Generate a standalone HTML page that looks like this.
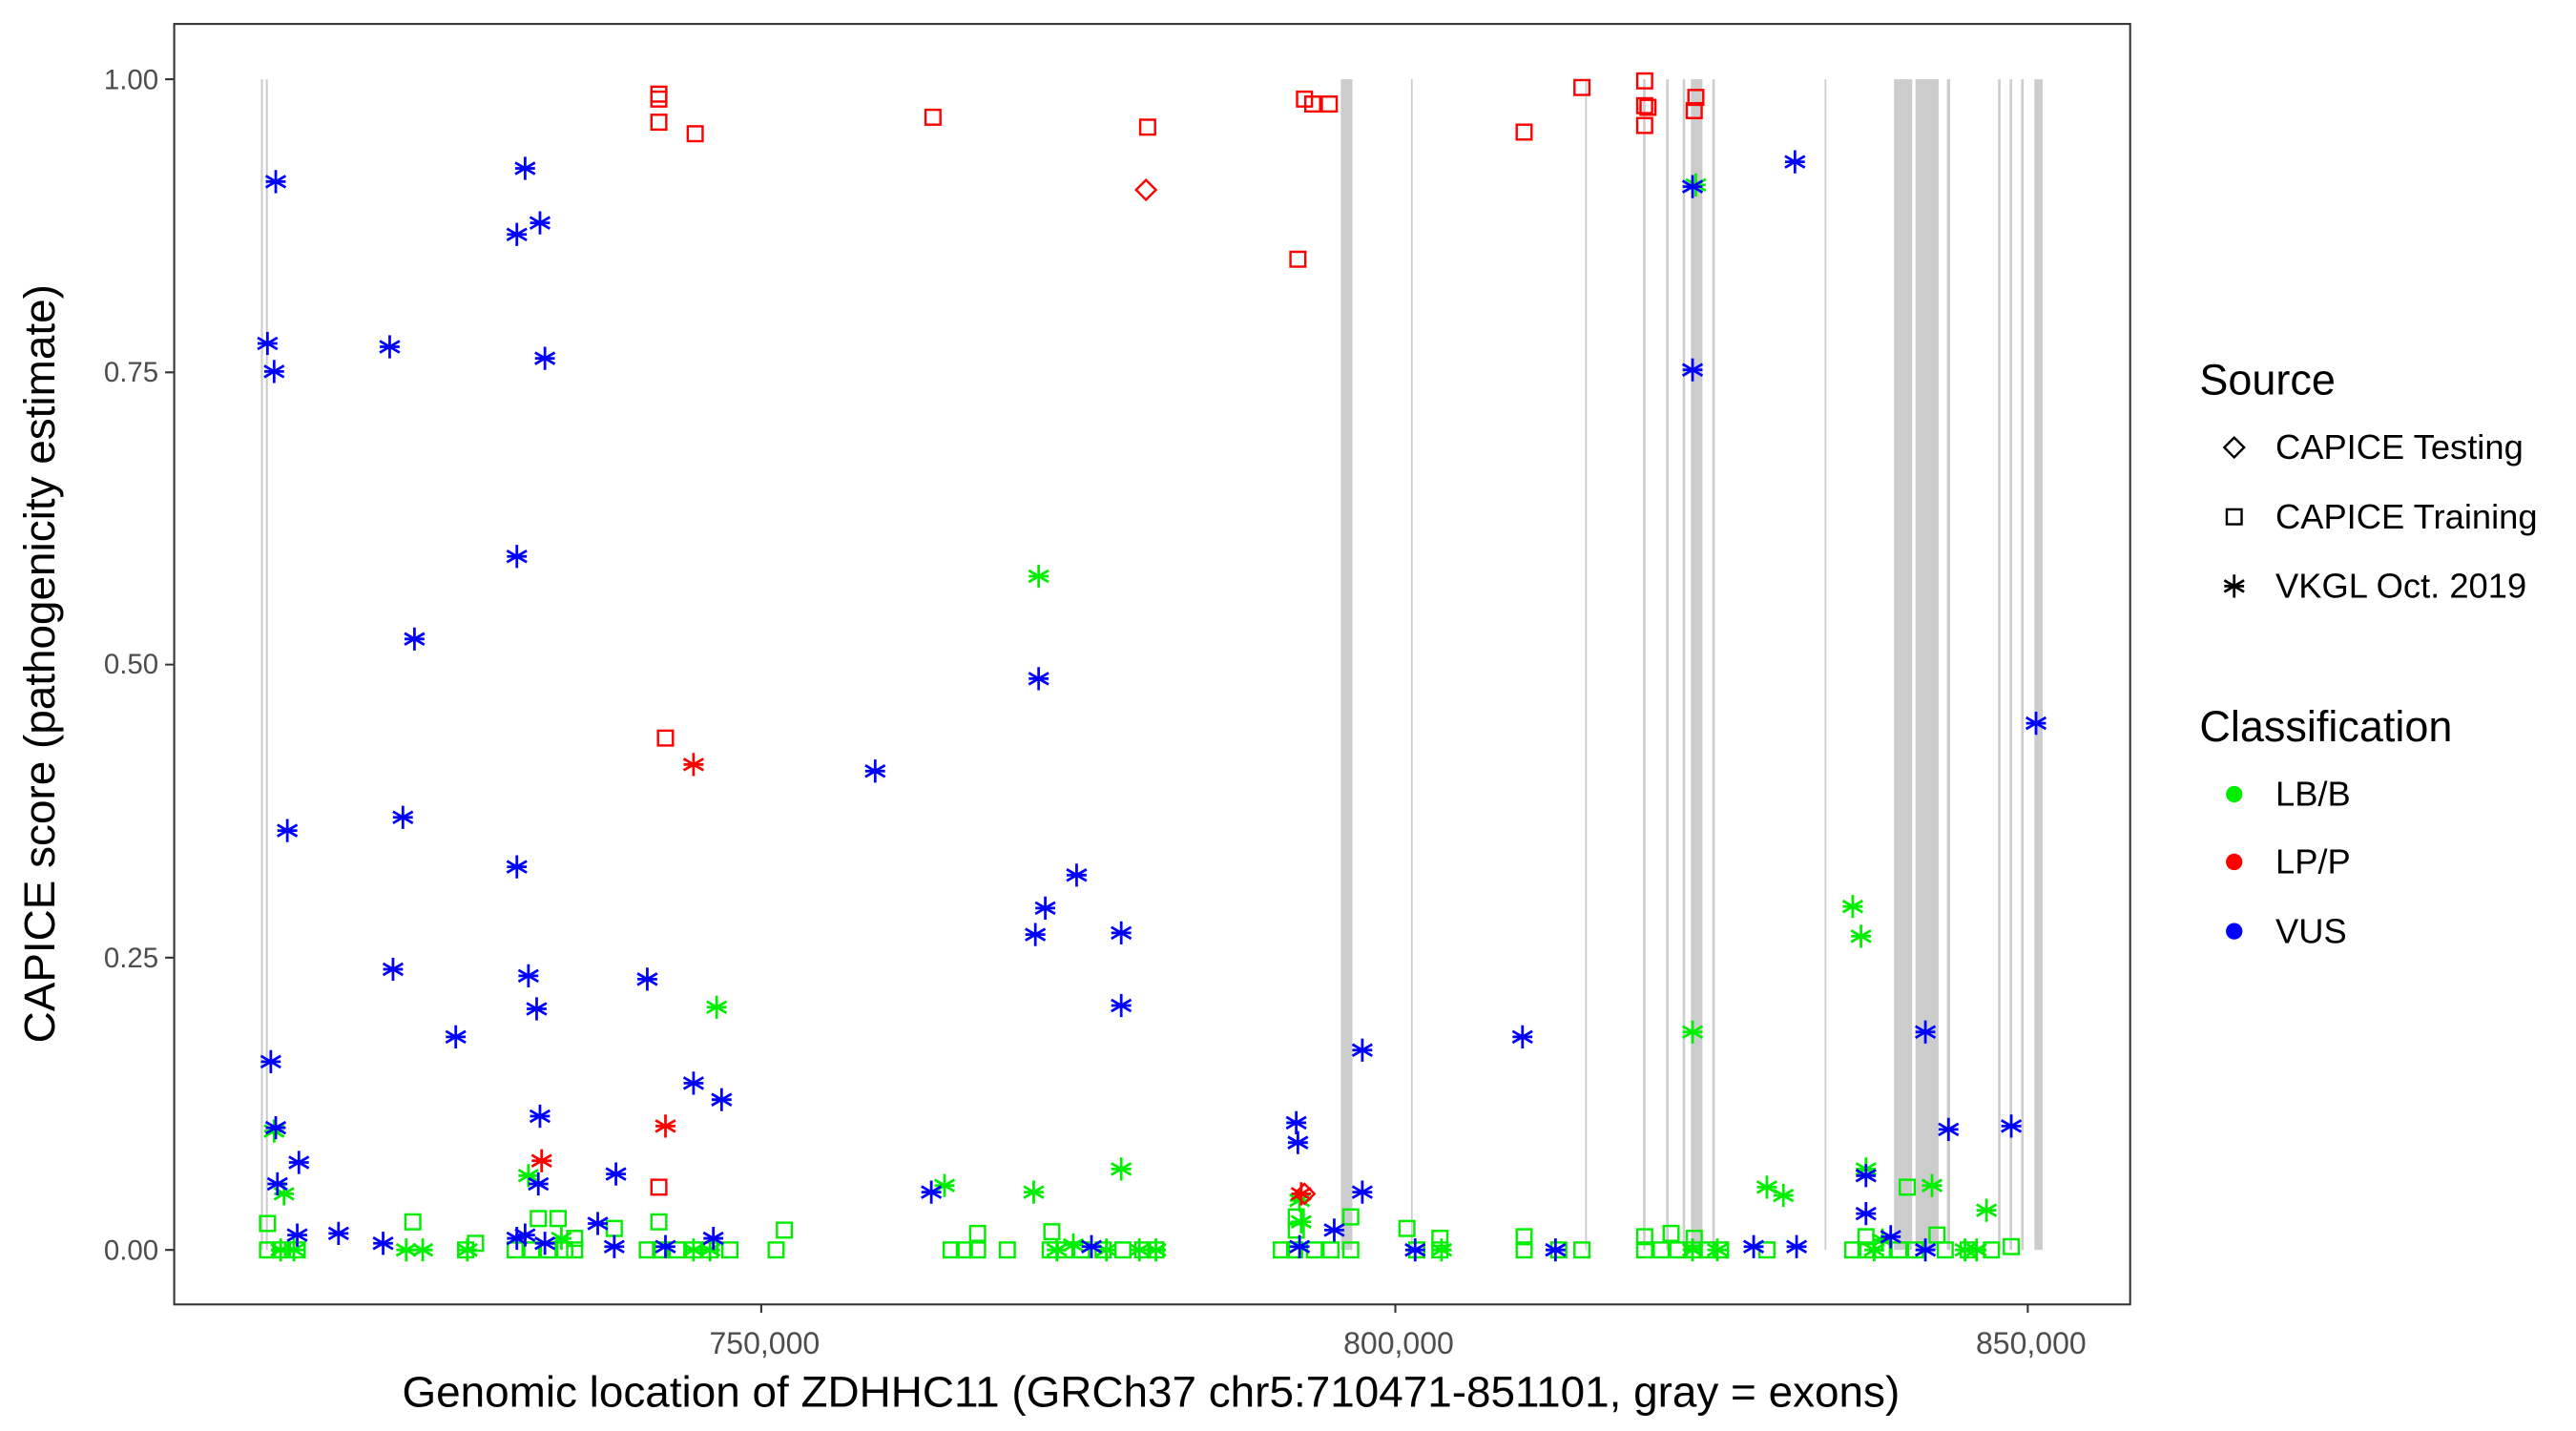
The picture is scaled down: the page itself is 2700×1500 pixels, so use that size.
<!DOCTYPE html>
<html><head><meta charset="utf-8"><style>html,body{margin:0;padding:0;background:#fff}svg{display:block}</style></head>
<body>
<svg width="2700" height="1500" viewBox="0 0 1560 866.67" preserveAspectRatio="none" xmlns="http://www.w3.org/2000/svg" xmlns:xlink="http://www.w3.org/1999/xlink" font-family="Liberation Sans, Arial, sans-serif">
<defs>
<g id="a" fill="none" stroke-width="1.6"><path d="M0-7V7M-6-3.5L6 3.5M-6 3.5L6-3.5M-6 0H6"/></g>
<rect id="s" x="-4.5" y="-4.5" width="9" height="9" fill="none" stroke-width="1.4"/>
<path id="d" d="M0-6L6 0L0 6L-6 0Z" fill="none" stroke-width="1.4"/>
</defs>
<rect width="1560" height="867" fill="#fff"/>
<g fill="#ccc">
<rect x="158" y="48" width="1.2" height="709"/><rect x="161" y="48" width="1.2" height="709"/>
<rect x="812" y="48" width="7" height="709"/>
<rect x="854.5" y="48" width="1" height="709"/>
<rect x="960" y="48" width="1" height="709"/>
<rect x="995" y="48" width="1.5" height="709"/>
<rect x="1009" y="48" width="1.5" height="709"/>
<rect x="1019" y="48" width="1.5" height="709"/>
<rect x="1024" y="48" width="7" height="709"/>
<rect x="1037" y="48" width="1.5" height="709"/>
<rect x="1105" y="48" width="1" height="709"/>
<rect x="1147" y="48" width="11" height="709"/>
<rect x="1160" y="48" width="14" height="709"/>
<rect x="1179" y="48" width="2" height="709"/>
<rect x="1210" y="48" width="1.5" height="709"/>
<rect x="1217" y="48" width="1.5" height="709"/>
<rect x="1224" y="48" width="1.5" height="709"/>
<rect x="1232" y="48" width="5" height="709"/>
</g>
<g stroke="#00ee00">
<use href="#s" x="162" y="741"/><use href="#s" x="250" y="740"/><use href="#s" x="326" y="738"/><use href="#s" x="338" y="738"/><use href="#s" x="399" y="740"/><use href="#s" x="475" y="745"/><use href="#s" x="592" y="747"/><use href="#s" x="637" y="746"/><use href="#s" x="785" y="737"/><use href="#s" x="818" y="737"/><use href="#s" x="852" y="744"/><use href="#s" x="923" y="749"/><use href="#s" x="1012" y="747"/><use href="#s" x="1155" y="719"/><use href="#s" x="1173" y="748"/><use href="#s" x="372" y="744"/><use href="#s" x="348" y="750"/><use href="#s" x="785" y="745"/>
<use href="#s" x="162" y="757"/><use href="#s" x="170" y="757"/><use href="#s" x="180" y="757"/><use href="#s" x="282" y="757"/><use href="#s" x="288" y="753"/><use href="#s" x="312" y="757"/><use href="#s" x="322" y="757"/><use href="#s" x="332" y="757"/><use href="#s" x="342" y="757"/><use href="#s" x="348" y="757"/><use href="#s" x="392" y="757"/><use href="#s" x="400" y="757"/><use href="#s" x="410" y="757"/><use href="#s" x="420" y="757"/><use href="#s" x="430" y="757"/><use href="#s" x="442" y="757"/><use href="#s" x="470" y="757"/><use href="#s" x="576" y="757"/><use href="#s" x="584" y="757"/><use href="#s" x="592" y="757"/><use href="#s" x="610" y="757"/><use href="#s" x="636" y="757"/><use href="#s" x="645" y="757"/><use href="#s" x="655" y="757"/><use href="#s" x="668" y="757"/><use href="#s" x="680" y="757"/><use href="#s" x="692" y="757"/><use href="#s" x="700" y="757"/><use href="#s" x="776" y="757"/><use href="#s" x="784" y="757"/><use href="#s" x="796" y="757"/><use href="#s" x="806" y="757"/><use href="#s" x="818" y="757"/><use href="#s" x="858" y="757"/><use href="#s" x="872" y="757"/><use href="#s" x="872" y="750"/><use href="#s" x="923" y="757"/><use href="#s" x="944" y="757"/><use href="#s" x="958" y="757"/><use href="#s" x="996" y="757"/><use href="#s" x="996" y="749"/><use href="#s" x="1006" y="757"/><use href="#s" x="1016" y="757"/><use href="#s" x="1026" y="757"/><use href="#s" x="1026" y="750"/><use href="#s" x="1034" y="757"/><use href="#s" x="1042" y="757"/><use href="#s" x="1070" y="757"/><use href="#s" x="1122" y="757"/><use href="#s" x="1130" y="757"/><use href="#s" x="1130" y="749"/><use href="#s" x="1140" y="757"/><use href="#s" x="1150" y="757"/><use href="#s" x="1160" y="757"/><use href="#s" x="1178" y="757"/><use href="#s" x="1192" y="757"/><use href="#s" x="1206" y="757"/><use href="#s" x="1218" y="755"/>
</g>
<g stroke="#00ee00">
<use href="#a" x="166" y="685"/><use href="#a" x="172" y="723"/><use href="#a" x="170" y="757"/><use href="#a" x="178" y="757"/><use href="#a" x="320" y="712"/><use href="#a" x="434" y="610"/><use href="#a" x="246" y="757"/><use href="#a" x="256" y="757"/><use href="#a" x="283" y="757"/><use href="#a" x="572" y="718"/><use href="#a" x="629" y="349"/><use href="#a" x="626" y="722"/><use href="#a" x="679" y="708"/><use href="#a" x="640" y="757"/><use href="#a" x="650" y="754"/><use href="#a" x="670" y="757"/><use href="#a" x="690" y="757"/><use href="#a" x="700" y="757"/><use href="#a" x="787" y="727"/><use href="#a" x="788" y="740"/><use href="#a" x="873" y="757"/><use href="#a" x="1027" y="112"/><use href="#a" x="1025" y="625"/><use href="#a" x="1070" y="719"/><use href="#a" x="1080" y="724"/><use href="#a" x="1122" y="549"/><use href="#a" x="1127" y="567"/><use href="#a" x="1130" y="708"/><use href="#a" x="1170" y="718"/><use href="#a" x="1203" y="733"/><use href="#a" x="1190" y="757"/><use href="#a" x="1197" y="757"/><use href="#a" x="1135" y="757"/><use href="#a" x="1140" y="751"/><use href="#a" x="1025" y="757"/><use href="#a" x="1040" y="757"/><use href="#a" x="420" y="757"/><use href="#a" x="430" y="757"/><use href="#a" x="340" y="750"/>
</g>
<g stroke="#ff0000">
<use href="#s" x="399" y="57"/><use href="#s" x="399" y="60"/><use href="#s" x="399" y="74"/><use href="#s" x="421" y="81"/><use href="#s" x="565" y="71"/><use href="#s" x="695" y="77"/><use href="#s" x="403" y="447"/><use href="#s" x="399" y="719"/><use href="#s" x="786" y="157"/><use href="#s" x="790" y="60"/><use href="#s" x="795" y="63"/><use href="#s" x="805" y="63"/><use href="#s" x="923" y="80"/><use href="#s" x="958" y="53"/><use href="#s" x="996" y="49"/><use href="#s" x="996" y="64"/><use href="#s" x="998" y="65"/><use href="#s" x="996" y="76"/><use href="#s" x="1027" y="59"/><use href="#s" x="1026" y="67"/>
<use href="#d" x="694" y="115"/><use href="#d" x="790" y="723"/>
<use href="#a" x="420" y="463"/><use href="#a" x="403" y="682"/><use href="#a" x="328" y="703"/><use href="#a" x="788" y="723"/>
</g>
<g stroke="#0000ff">
<use href="#a" x="167" y="110"/><use href="#a" x="162" y="208"/><use href="#a" x="166" y="225"/><use href="#a" x="164" y="643"/><use href="#a" x="167" y="683"/><use href="#a" x="168" y="717"/><use href="#a" x="174" y="503"/><use href="#a" x="181" y="704"/><use href="#a" x="180" y="748"/><use href="#a" x="205" y="747"/><use href="#a" x="236" y="210"/><use href="#a" x="238" y="587"/><use href="#a" x="244" y="495"/><use href="#a" x="251" y="387"/><use href="#a" x="232" y="753"/><use href="#a" x="276" y="628"/><use href="#a" x="318" y="102"/><use href="#a" x="313" y="142"/><use href="#a" x="327" y="135"/><use href="#a" x="330" y="217"/><use href="#a" x="313" y="337"/><use href="#a" x="313" y="525"/><use href="#a" x="320" y="591"/><use href="#a" x="325" y="611"/><use href="#a" x="327" y="676"/><use href="#a" x="326" y="717"/><use href="#a" x="313" y="750"/><use href="#a" x="318" y="748"/><use href="#a" x="330" y="753"/><use href="#a" x="362" y="741"/><use href="#a" x="373" y="711"/><use href="#a" x="372" y="755"/><use href="#a" x="392" y="593"/><use href="#a" x="420" y="656"/><use href="#a" x="437" y="666"/><use href="#a" x="403" y="755"/><use href="#a" x="432" y="750"/><use href="#a" x="530" y="467"/><use href="#a" x="564" y="722"/><use href="#a" x="629" y="411"/><use href="#a" x="633" y="550"/><use href="#a" x="652" y="530"/><use href="#a" x="627" y="566"/><use href="#a" x="679" y="565"/><use href="#a" x="679" y="609"/><use href="#a" x="661" y="755"/><use href="#a" x="785" y="680"/><use href="#a" x="786" y="692"/><use href="#a" x="787" y="755"/><use href="#a" x="808" y="745"/><use href="#a" x="825" y="636"/><use href="#a" x="825" y="722"/><use href="#a" x="857" y="757"/><use href="#a" x="922" y="628"/><use href="#a" x="942" y="757"/><use href="#a" x="1025" y="113"/><use href="#a" x="1025" y="224"/><use href="#a" x="1062" y="755"/><use href="#a" x="1087" y="98"/><use href="#a" x="1088" y="755"/><use href="#a" x="1130" y="712"/><use href="#a" x="1130" y="735"/><use href="#a" x="1145" y="749"/><use href="#a" x="1166" y="625"/><use href="#a" x="1166" y="757"/><use href="#a" x="1180" y="684"/><use href="#a" x="1218" y="682"/><use href="#a" x="1233" y="438"/>
</g>
<rect x="105.5" y="14.5" width="1184.5" height="775.5" fill="none" stroke="#333" stroke-width="1.2"/>
<g stroke="#333" stroke-width="1.2">
<path d="M100 48H105M100 225.5H105M100 402.5H105M100 580H105M100 757H105"/>
<path d="M461 790V795M845 790V795M1228 790V795"/>
</g>
<g font-size="17" fill="#4d4d4d" text-anchor="end">
<text x="96" y="54">1.00</text><text x="96" y="231">0.75</text><text x="96" y="408">0.50</text><text x="96" y="586">0.25</text><text x="96" y="763">0.00</text>
</g>
<g font-size="18.5" fill="#4d4d4d" text-anchor="middle">
<text x="463" y="820">750,000</text><text x="847" y="820">800,000</text><text x="1230" y="820">850,000</text>
</g>
<text x="697" y="852" font-size="26.5" text-anchor="middle">Genomic location of ZDHHC11 (GRCh37 chr5:710471-851101, gray = exons)</text>
<text transform="translate(33,402) rotate(-90)" font-size="26.5" text-anchor="middle">CAPICE score (pathogenicity estimate)</text>
<text x="1332" y="239" font-size="26">Source</text>
<g stroke="#000"><use href="#d" x="1353" y="271"/><use href="#s" x="1353" y="313"/><use href="#a" x="1353" y="355"/></g>
<g font-size="21"><text x="1378" y="278">CAPICE Testing</text><text x="1378" y="320">CAPICE Training</text><text x="1378" y="362">VKGL Oct. 2019</text></g>
<text x="1332" y="449" font-size="26">Classification</text>
<circle cx="1353" cy="481" r="5" fill="#00ee00"/><circle cx="1353" cy="522" r="5" fill="#ff0000"/><circle cx="1353" cy="564" r="5" fill="#0000ff"/>
<g font-size="21"><text x="1378" y="488">LB/B</text><text x="1378" y="529">LP/P</text><text x="1378" y="571">VUS</text></g>
</svg>
</body></html>
